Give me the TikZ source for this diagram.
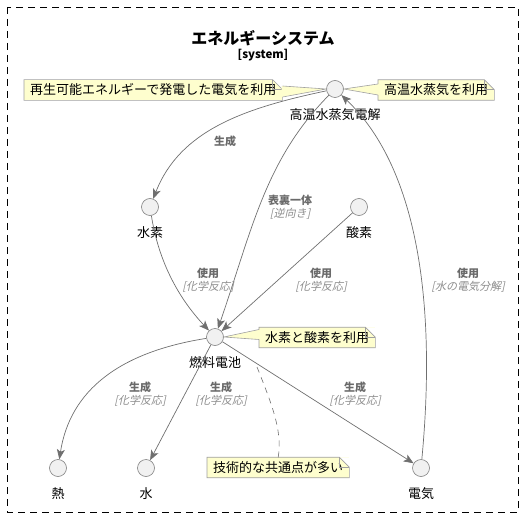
\documentclass[tikz,border=0pt]{standalone}
\usepackage{fontspec}
\setmainfont{Noto Sans CJK JP}[AutoFakeSlant=0.22]
\usepackage{xcolor}
\usetikzlibrary{arrows.meta,calc,positioning}

\definecolor{circfill}{HTML}{F1F1F1}
\definecolor{circline}{HTML}{7F7F7F}
\definecolor{notefill}{HTML}{FEFECE}
\definecolor{noteline}{HTML}{A0A0A0}
\definecolor{conline}{HTML}{6F6F6F}
\definecolor{labbold}{HTML}{6A6A6A}
\definecolor{labital}{HTML}{8C8C8C}

% two-line connector label
\newcommand{\elab}[2]{\textcolor{labbold}{\bfseries #1}\\\textcolor{labital}{\itshape [#2]}}

\tikzset{
    % use case circle
    ucirc/.style = {draw=circline, fill=circfill, circle, line width=0.6pt, minimum size=17pt, inner sep=0},
    % name under a circle
    uname/.style = {font=\fontsize{13}{15}\selectfont, inner sep=0},
    % connector with arrow head
    uconc/.style = {draw=conline, line width=0.7pt, -{Stealth[length=10pt,width=8pt,inset=2.5pt]}},
    % connector label
    ulabel/.style = {font=\fontsize{11}{13}\selectfont, align=center, inner sep=0},
    % note box (outline drawn afterwards)
    unote/.style = {fill=notefill, font=\fontsize{13}{15}\selectfont, inner xsep=6pt, inner ysep=4pt, anchor=west},
    % note outline
    noteedge/.style = {draw=noteline, line width=0.6pt},
    % dashed link to a note
    nlink/.style = {draw=conline, line width=0.6pt, dash pattern=on 6pt off 5pt}
}

\begin{document}
\begin{tikzpicture}[x=1pt, y=-1pt]
\useasboundingbox (0,0) rectangle (526,518);

% system frame
\draw [line width=0.8pt, dash pattern=on 7pt off 5pt] (7,7) rectangle (518,512);
\node [font=\fontsize{16}{18}\selectfont\bfseries] (title) at (263,38) {エネルギーシステム};
\node [font=\fontsize{11.5}{13}\selectfont\bfseries] (stereo) at (263,55) {[system]};

% use cases
\foreach \n/\x/\y in {steam/335/89, hydrogen/150/207, oxygen/359/207, fuel/215/337, heat/58/468, water/146/468, elec/421/468}
  \node [ucirc] (\n) at (\x,\y) {};
\foreach \n/\t in {steam/高温水蒸気電解, hydrogen/水素, oxygen/酸素, fuel/燃料電池, heat/熱, water/水, elec/電気}
  \node [uname, below=10.5pt of \n] (\n-name) {\t};

% notes
\node [unote] (nrenew) at (24,90) {再生可能エネルギーで発電した電気を利用};
\node [unote] (nsteam) at (378,90) {高温水蒸気を利用};
\node [unote] (nfuel) at (259,337.5) {水素と酸素を利用};
\node [unote] (ncommon) at (207,467.5) {技術的な共通点が多い};
\foreach \n in {nrenew,nsteam,nfuel,ncommon} {
  \fill [white] ($(\n.north east)+(-10,0)$) -- (\n.north east) -- ($(\n.north east)+(0,10)$) -- cycle;
  \draw [noteedge] (\n.south west) -- (\n.north west) -- ($(\n.north east)+(-10,0)$) -- ($(\n.north east)+(0,10)$) -- (\n.south east) -- cycle;
  \draw [noteedge] ($(\n.north east)+(-10,0)$) -- ($(\n.north east)+(-10,10)$) -- ($(\n.north east)+(0,10)$);
}

% note pointers
\fill [notefill] ($(nrenew.east)+(-1,-4)$) -- (steam.west) -- ($(nrenew.east)+(-1,7)$) -- cycle;
\draw [noteedge] ($(nrenew.east)+(0,-4)$) -- (steam.west) -- ($(nrenew.east)+(0,7)$);
\fill [notefill] ($(nsteam.west)+(1,-6)$) -- (steam.east) -- ($(nsteam.west)+(1,5)$) -- cycle;
\draw [noteedge] ($(nsteam.west)+(0,-6)$) -- (steam.east) -- ($(nsteam.west)+(0,5)$);
\fill [notefill] ($(nfuel.west)+(1,-8)$) -- (fuel.east) -- ($(nfuel.west)+(1,2)$) -- cycle;
\draw [noteedge] ($(nfuel.west)+(0,-8)$) -- (fuel.east) -- ($(nfuel.west)+(0,2)$);
\coordinate (cstart) at (257,367);
\draw [nlink] (cstart) .. controls (270,400) and (283,430) .. (ncommon.north);

% connectors
\draw [uconc] (steam) .. controls (245,108) and (180,130) .. (hydrogen);
\draw [uconc] (steam) .. controls (265,160) and (252,230) .. (fuel);
\draw [uconc] (hydrogen) .. controls (160,270) and (185,305) .. (fuel);
\draw [uconc] (oxygen) -- (fuel);
\draw [uconc] (elec) .. controls (436,310) and (420,170) .. (steam);
\draw [uconc] (fuel) .. controls (120,352) and (70,390) .. (heat);
\draw [uconc] (fuel) -- (water);
\draw [uconc] (fuel) -- (elec);

% connector labels
\node [ulabel, text=labbold, font=\fontsize{11}{13}\selectfont\bfseries] (l-gen) at (225,141) {生成};
\node [ulabel] (l-rev) at (290,207.5) {\elab{表裏一体}{逆向き}};
\node [ulabel] (l-h2) at (208,280.5) {\elab{使用}{化学反応}};
\node [ulabel] (l-o2) at (321,280.5) {\elab{使用}{化学反応}};
\node [ulabel] (l-el) at (468,280.5) {\elab{使用}{水の電気分解}};
\node [ulabel] (l-heat) at (140,394.5) {\elab{生成}{化学反応}};
\node [ulabel] (l-water) at (221,394.5) {\elab{生成}{化学反応}};
\node [ulabel] (l-elec) at (355,394.5) {\elab{生成}{化学反応}};

\end{tikzpicture}
\end{document}
